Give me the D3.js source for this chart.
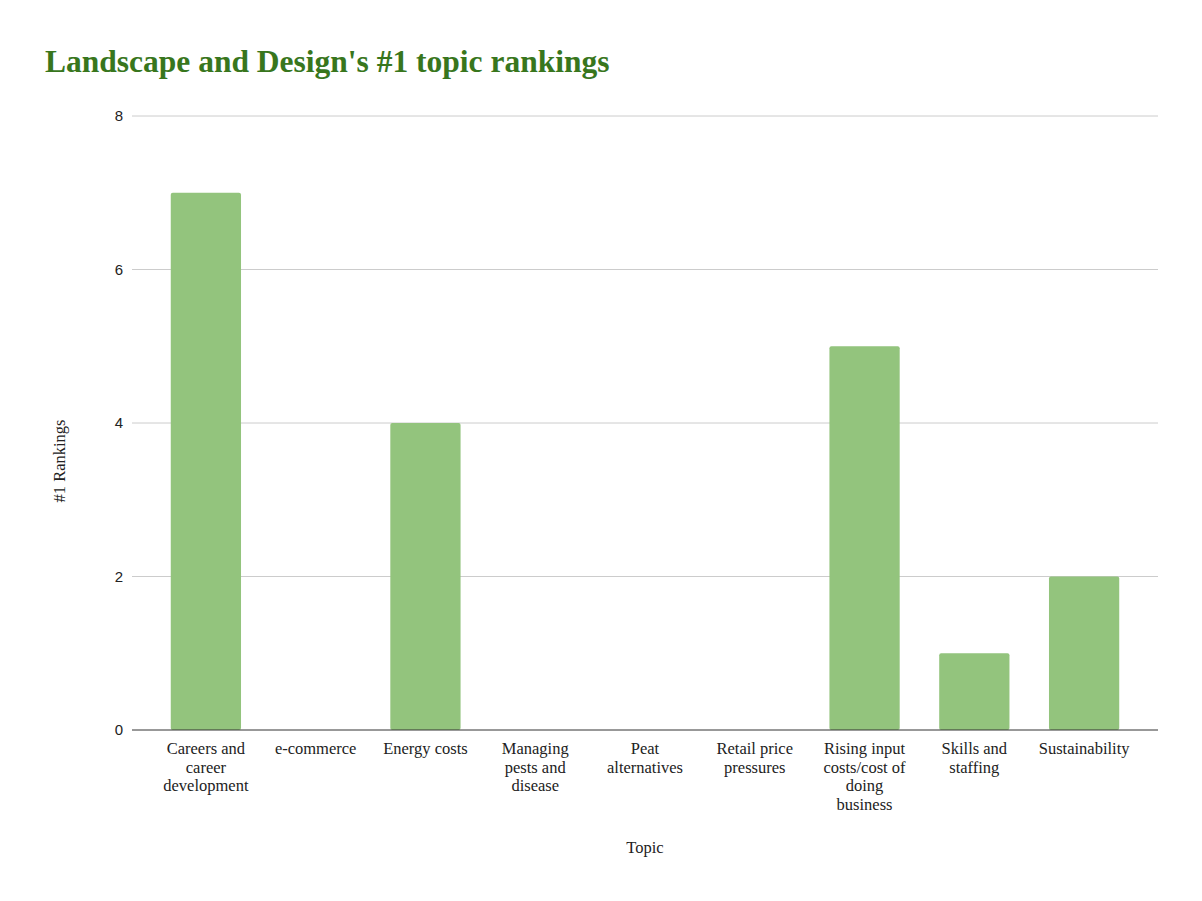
<!DOCTYPE html>
<html>
<head>
<meta charset="utf-8" />
<script src="https://cdn.jsdelivr.net/npm/d3@7"></script>
<style>
  body { margin: 0; background: #fff; }
</style>
</head>
<body>
<svg id="chart" width="1202" height="901"></svg>
<script>
var topics = [
  ["Careers and", "career", "development"],
  ["e-commerce"],
  ["Energy costs"],
  ["Managing", "pests and", "disease"],
  ["Peat", "alternatives"],
  ["Retail price", "pressures"],
  ["Rising input", "costs/cost of", "doing", "business"],
  ["Skills and", "staffing"],
  ["Sustainability"]
];
var rankings = [7, 0, 4, 0, 0, 0, 5, 1, 2];
var yTicks = [0, 2, 4, 6, 8];

var svg = d3.select("#chart");
svg.append("rect").attr("width", 1202).attr("height", 901).attr("fill", "#fff");

var x = d3.scaleBand()
    .domain(d3.range(topics.length))
    .range([151, 1139])
    .paddingInner(0.36)
    .paddingOuter(0.18);
var y = d3.scaleLinear().domain([0, 8]).range([730, 116]);

svg.append("text")
    .attr("x", 45).attr("y", 72)
    .attr("font-family", "Liberation Serif, serif")
    .attr("font-weight", "bold")
    .attr("font-size", "31.5px")
    .attr("fill", "#38761d")
    .text("Landscape and Design's #1 topic rankings");

svg.selectAll("line.grid")
    .data(yTicks.slice(1))
    .enter().append("line")
    .attr("x1", 132).attr("x2", 1158)
    .attr("y1", function(d) { return y(d); })
    .attr("y2", function(d) { return y(d); })
    .attr("stroke", "#cccccc");

svg.selectAll("text.ytick")
    .data(yTicks)
    .enter().append("text")
    .attr("x", 123)
    .attr("y", function(d) { return y(d) + 5; })
    .attr("text-anchor", "end")
    .attr("font-family", "Liberation Sans, Arial, sans-serif")
    .attr("font-size", "15px")
    .attr("fill", "#222")
    .text(function(d) { return d; });

svg.selectAll("rect.bar")
    .data(rankings)
    .enter().append("rect")
    .attr("x", function(d, i) { return x(i); })
    .attr("y", function(d) { return y(d); })
    .attr("width", x.bandwidth())
    .attr("height", function(d) { return y(0) - y(d); })
    .attr("rx", 2)
    .attr("fill", "#93c47d");

svg.append("line")
    .attr("x1", 132).attr("x2", 1158)
    .attr("y1", y(0)).attr("y2", y(0))
    .attr("stroke", "#333");

var lab = svg.selectAll("text.cat")
    .data(topics)
    .enter().append("text")
    .attr("text-anchor", "middle")
    .attr("font-family", "Liberation Serif, serif")
    .attr("font-size", "16.5px")
    .attr("fill", "#222");
lab.each(function(lines, i) {
  var t = d3.select(this);
  lines.forEach(function(s, k) {
    t.append("tspan")
      .attr("x", x(i) + x.bandwidth() / 2)
      .attr("y", 754 + k * 18.7)
      .text(s);
  });
});

svg.append("text")
    .attr("x", 645).attr("y", 853)
    .attr("text-anchor", "middle")
    .attr("font-family", "Liberation Serif, serif")
    .attr("font-size", "16.5px")
    .attr("fill", "#222")
    .text("Topic");

svg.append("text")
    .attr("transform", "translate(65,461) rotate(-90)")
    .attr("text-anchor", "middle")
    .attr("font-family", "Liberation Serif, serif")
    .attr("font-size", "16.5px")
    .attr("fill", "#222")
    .text("#1 Rankings");
</script>
</body>
</html>
